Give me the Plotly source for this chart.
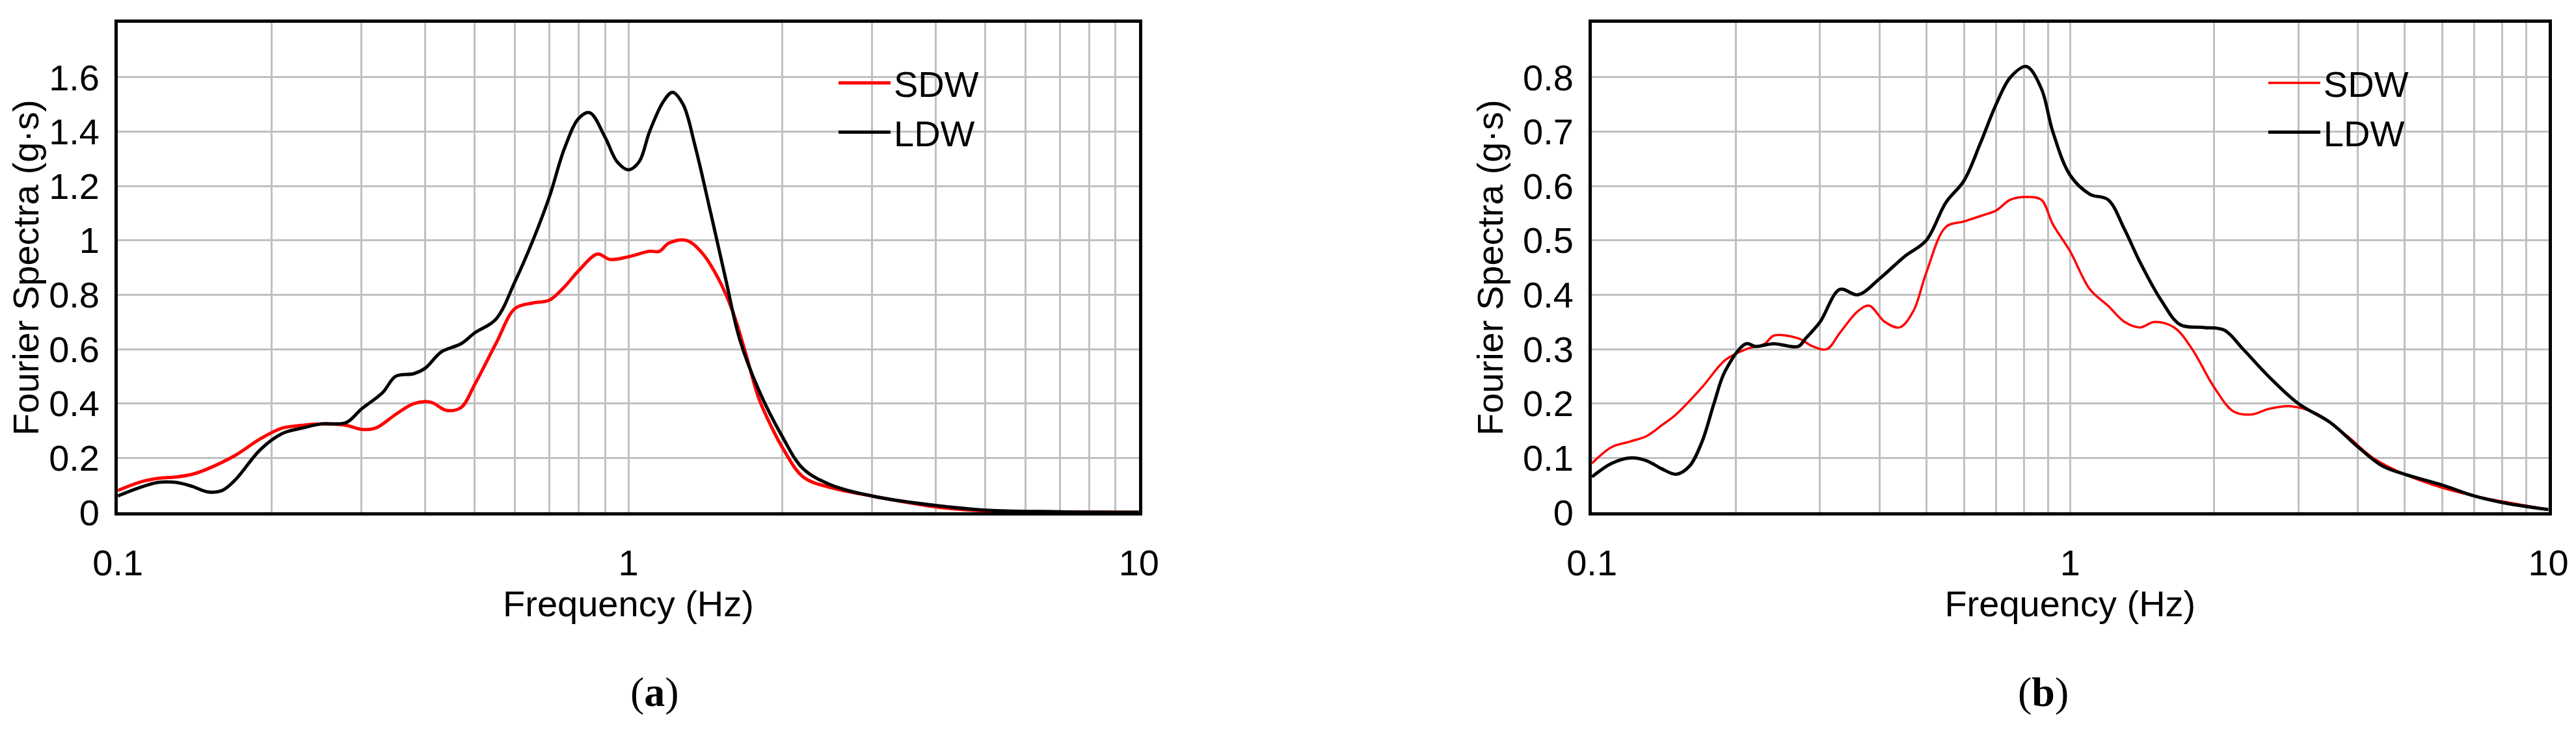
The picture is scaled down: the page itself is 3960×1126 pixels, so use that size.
import plotly.graph_objects as go

a_sdw_x = [0.1,0.11,0.12,0.13,0.14,0.15,0.17,0.19,0.21,0.23,0.25,0.28,0.30,0.32,0.35,0.38,0.41,0.44,0.47,0.5,0.55,0.6,0.65,0.7,0.75,0.8,0.87,0.92,1.0,1.1,1.15,1.2,1.3,1.4,1.5,1.6,1.7,1.8,1.9,2.0,2.2,2.5,3,4,5,6,10]
a_sdw_y = [0.08,0.11,0.125,0.13,0.14,0.16,0.21,0.27,0.31,0.32,0.325,0.32,0.305,0.31,0.36,0.40,0.405,0.375,0.385,0.47,0.62,0.75,0.77,0.78,0.83,0.89,0.95,0.93,0.94,0.96,0.96,0.99,1.0,0.95,0.86,0.74,0.58,0.42,0.32,0.24,0.13,0.09,0.06,0.02,0.005,0.002,0.0]
a_ldw_x = [0.1,0.11,0.12,0.13,0.14,0.15,0.16,0.17,0.19,0.21,0.23,0.25,0.28,0.3,0.33,0.35,0.38,0.4,0.43,0.47,0.5,0.55,0.6,0.65,0.7,0.75,0.8,0.84,0.9,0.95,1.0,1.05,1.1,1.17,1.22,1.28,1.35,1.45,1.55,1.65,1.8,2.0,2.2,2.5,3,4,5,7,10]
a_ldw_y = [0.06,0.09,0.11,0.11,0.095,0.075,0.08,0.12,0.23,0.29,0.31,0.325,0.33,0.38,0.44,0.5,0.51,0.53,0.59,0.62,0.66,0.71,0.85,1.0,1.16,1.34,1.45,1.47,1.38,1.29,1.26,1.29,1.4,1.51,1.545,1.5,1.35,1.1,0.86,0.64,0.45,0.28,0.16,0.1,0.06,0.025,0.008,0.002,0.0]
b_sdw_x = [0.1,0.11,0.12,0.13,0.14,0.15,0.17,0.19,0.21,0.23,0.24,0.27,0.29,0.31,0.33,0.36,0.38,0.41,0.44,0.47,0.5,0.55,0.6,0.65,0.7,0.75,0.81,0.87,0.92,1.0,1.1,1.2,1.3,1.4,1.5,1.65,1.8,2.0,2.2,2.4,2.6,2.9,3.3,3.8,4.3,5,6,7,8,10]
b_sdw_y = [0.09,0.12,0.13,0.14,0.16,0.18,0.23,0.28,0.3,0.31,0.325,0.32,0.305,0.3,0.33,0.37,0.38,0.35,0.34,0.37,0.44,0.525,0.535,0.545,0.555,0.575,0.58,0.575,0.53,0.48,0.41,0.38,0.35,0.34,0.35,0.34,0.3,0.23,0.185,0.18,0.19,0.195,0.18,0.14,0.1,0.07,0.045,0.03,0.02,0.005]
b_ldw_x = [0.1,0.11,0.12,0.13,0.14,0.15,0.16,0.17,0.18,0.19,0.21,0.22,0.24,0.27,0.28,0.3,0.33,0.36,0.4,0.45,0.5,0.55,0.6,0.65,0.7,0.75,0.81,0.87,0.92,1.0,1.1,1.2,1.3,1.4,1.55,1.7,1.9,2.1,2.3,2.6,3.0,3.5,4,4.5,5,6,7,8,10]
b_ldw_y = [0.065,0.09,0.1,0.095,0.08,0.07,0.085,0.13,0.2,0.26,0.31,0.305,0.31,0.305,0.32,0.35,0.41,0.4,0.43,0.47,0.5,0.57,0.61,0.68,0.75,0.8,0.82,0.78,0.7,0.62,0.585,0.575,0.52,0.46,0.39,0.345,0.34,0.335,0.3,0.25,0.2,0.165,0.12,0.085,0.07,0.05,0.03,0.018,0.005]

RED = "#ff0000"
fig = go.Figure()
fig.add_trace(go.Scatter(x=a_sdw_x, y=a_sdw_y, name="SDW", line=dict(color=RED, width=5, shape="spline"), xaxis="x", yaxis="y", legend="legend"))
fig.add_trace(go.Scatter(x=a_ldw_x, y=a_ldw_y, name="LDW", line=dict(color="black", width=5, shape="spline"), xaxis="x", yaxis="y", legend="legend"))
fig.add_trace(go.Scatter(x=b_sdw_x, y=b_sdw_y, name="SDW", line=dict(color=RED, width=3.5, shape="spline"), xaxis="x2", yaxis="y2", legend="legend2"))
fig.add_trace(go.Scatter(x=b_ldw_x, y=b_ldw_y, name="LDW", line=dict(color="black", width=5, shape="spline"), xaxis="x2", yaxis="y2", legend="legend2"))

font = dict(family="Liberation Sans, Arial", size=56, color="black")
def xax(dom, anchor):
    return dict(type="log", range=[-1, 1], domain=dom, anchor=anchor, dtick=1,
                showgrid=True, gridcolor="#c0c0c0", gridwidth=3,
                minor=dict(showgrid=True, gridcolor="#c0c0c0", gridwidth=3, dtick="D1"),
                showline=True, mirror=True, linecolor="black", linewidth=5,
                ticks="", tickfont=font, ticklabelstandoff=25,
                title=dict(text="Frequency (Hz)", font=font, standoff=12))
def yax(rng, dt, anchor):
    return dict(range=rng, dtick=dt, domain=[0.287, 0.975], anchor=anchor,
                showgrid=True, gridcolor="#c0c0c0", gridwidth=3, zeroline=False,
                showline=True, mirror=True, linecolor="black", linewidth=5,
                ticks="", tickfont=font, ticklabelstandoff=12,
                title=dict(text="Fourier Spectra (g·s)", font=font, standoff=14))

leg = dict(font=font, bgcolor="rgba(0,0,0,0)", xanchor="left", yanchor="top", tracegroupgap=0, itemwidth=80)
fig.update_layout(
    width=3960, height=1126, margin=dict(l=0, r=0, t=0, b=0),
    paper_bgcolor="white", plot_bgcolor="white",
    xaxis=xax([0.0345, 0.438], "y"), yaxis=yax([0, 1.8], 0.2, "x"),
    xaxis2=xax([0.617, 0.995], "y2"), yaxis2=yax([0, 0.9], 0.1, "x2"),
    legend=dict(x=0.318, y=0.93, **leg),
    legend2=dict(x=0.883, y=0.93, **leg),
    annotations=[
        dict(text="(<b>a</b>)", x=0.2365, y=0.0, xref="paper", yref="paper", showarrow=False, yanchor="bottom",
             font=dict(family="Liberation Serif, Times New Roman", size=64, color="black")),
        dict(text="(<b>b</b>)", x=0.806, y=0.0, xref="paper", yref="paper", showarrow=False, yanchor="bottom",
             font=dict(family="Liberation Serif, Times New Roman", size=64, color="black")),
    ],
)
fig.write_html("out.html")
